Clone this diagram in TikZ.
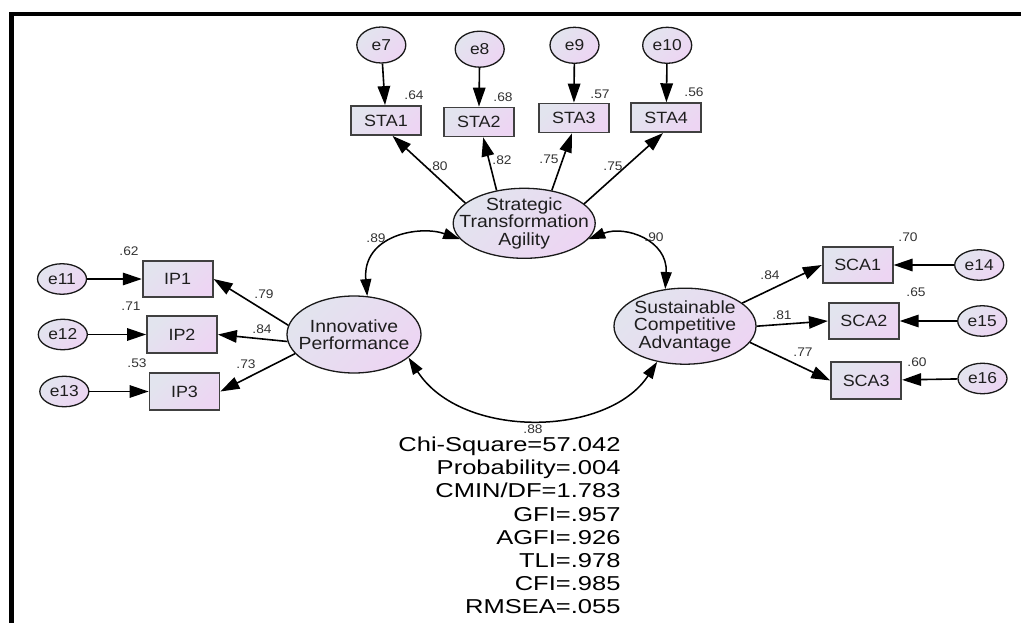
\documentclass[tikz,border=0pt]{standalone}
\usepackage{fontspec}
\setmainfont{Liberation Sans}
\newfontfamily\labelfont{Liberation Sans}[FakeStretch=1.1]
\newfontfamily\statsfont{Liberation Sans}[FakeStretch=1.27]
\usetikzlibrary{arrows.meta,shapes.geometric}
\definecolor{fillA}{RGB}{226,228,238}
\definecolor{fillB}{RGB}{237,213,243}
\definecolor{inkgray}{RGB}{30,30,30}

\begin{document}
\begin{tikzpicture}[x=1pt,y=-1pt,
  shadefill/.style={top color=fillA, bottom color=fillB, shading angle=45},
  latent/.style={ellipse, draw=black!90, line width=1.3pt, shadefill, inner sep=0pt},
  lattext/.style={align=center, inner sep=0pt, text=inkgray, font=\labelfont\fontsize{17.6}{17.5}\selectfont},
  observed/.style={rectangle, draw=black!75, line width=1.8pt, shadefill, inner sep=0pt,
    minimum width=70pt, text=inkgray, font=\labelfont\fontsize{16.3}{18}\selectfont},
  errvar/.style={ellipse, draw=black!90, line width=1.3pt, shadefill, inner sep=0pt,
    minimum width=49pt, text=inkgray, font=\labelfont\fontsize{15.8}{18}\selectfont},
  coef/.style={inner sep=0pt, text=black!80, font=\labelfont\fontsize{12.5}{14}\selectfont},
  loadarrow/.style={line width=1.6pt, -{Triangle[length=19pt,width=12.5pt]}},
  covar/.style={line width=1.5pt, {Triangle[length=17pt,width=11pt]}-{Triangle[length=17pt,width=11pt]}},
  stats/.style={align=right, inner sep=0pt, text=black, font=\statsfont\fontsize{20.1}{23.1}\selectfont}
]
\useasboundingbox (0,0) rectangle (1021,623);
\fill[white] (0,0) rectangle (1021,623);

% frame lines along the top and left edge
\draw[line width=4.6pt] (11.5,640) -- (11.5,14) -- (1040,14);

% latent factors
\node[latent, minimum width=142pt, minimum height=70pt,
  label={[lattext]center:Strategic\\Transformation\\Agility}] (sta) at (524.2,223.3) {};
\node[latent, minimum width=134pt, minimum height=77pt,
  label={[lattext]center:Innovative\\Performance}] (ip) at (354,334.5) {};
\node[latent, minimum width=142pt, minimum height=76pt,
  label={[lattext]center:Sustainable\\Competitive\\Advantage}] (sca) at (685,326.2) {};

% indicators
\node[observed, minimum height=29pt] (sta1) at (386,120.5) {STA1};
\node[observed, minimum height=29pt] (sta2) at (478.8,122) {STA2};
\node[observed, minimum height=29pt] (sta3) at (573.8,118) {STA3};
\node[observed, minimum height=29pt] (sta4) at (666.2,117.7) {STA4};
\node[observed, minimum height=36.5pt] (ip1) at (177.7,279) {IP1};
\node[observed, minimum height=36.5pt] (ip2) at (182,334.5) {IP2};
\node[observed, minimum height=36.5pt] (ip3) at (184.5,391.5) {IP3};
\node[observed, minimum height=36.5pt] (sca1) at (857.7,265) {SCA1};
\node[observed, minimum height=36.5pt] (sca2) at (863.8,321) {SCA2};
\node[observed, minimum height=36.5pt] (sca3) at (866.2,380.5) {SCA3};

% error terms
\node[errvar, minimum height=36pt] (e7) at (381.3,45) {e7};
\node[errvar, minimum height=36pt] (e8) at (479.7,49.2) {e8};
\node[errvar, minimum height=36pt] (e9) at (574.5,45.3) {e9};
\node[errvar, minimum height=36pt] (e10) at (667.2,45.3) {e10};
\node[errvar, minimum height=30.5pt] (e11) at (62,279) {e11};
\node[errvar, minimum height=30.5pt] (e12) at (62.8,334.5) {e12};
\node[errvar, minimum height=30.5pt] (e13) at (64.3,391.5) {e13};
\node[errvar, minimum height=30.5pt] (e14) at (979.2,265) {e14};
\node[errvar, minimum height=30.5pt] (e15) at (982.2,321) {e15};
\node[errvar, minimum height=30.5pt] (e16) at (982.5,378.5) {e16};

% error paths
\draw[loadarrow] (e7) -- (sta1);
\draw[loadarrow] (e8) -- (sta2);
\draw[loadarrow] (e9) -- (sta3);
\draw[loadarrow] (e10) -- (sta4);
\draw[loadarrow] (e11) -- (ip1);
\draw[loadarrow] (e12) -- (ip2);
\draw[loadarrow] (e13) -- (ip3);
\draw[loadarrow] (e14) -- (sca1);
\draw[loadarrow] (e15) -- (sca2);
\draw[loadarrow] (e16) -- (sca3);

% factor loadings
\draw[loadarrow] (sta.161.6) -- (sta1.-67.5);
\draw[loadarrow] (sta.130.5) -- (sta2.-74);
\draw[loadarrow] (sta.50.8) -- (sta3.-97);
\draw[loadarrow] (sta.18.5) -- (sta4.-102);
\draw[loadarrow] (ip.172) -- (ip1.east);
\draw[loadarrow] (ip.186.3) -- (ip2.east);
\draw[loadarrow] (ip.198.6) -- (ip3.east);
\draw[loadarrow] (sca.22.6) -- (sca1.west);
\draw[loadarrow] (sca.0) -- (sca2.west);
\draw[loadarrow] (sca.-14) -- (sca3.west);

% factor covariances
\draw[covar] (sta.194) .. controls (420,225) and (362,235) .. (ip.71);
\draw[covar] (sta.-14) .. controls (625,225) and (668,240) .. (sca.118.6);
\draw[covar] (ip.-23) .. controls (462,440) and (608,437) .. (sca.-128);

% squared multiple correlations
\node[coef] (r7) at (414,95) {.64};
\node[coef] (r8) at (503,97.5) {.68};
\node[coef] (r9) at (600,94) {.57};
\node[coef] (r10) at (694,92.5) {.56};
\node[coef] (r11) at (129,251) {.62};
\node[coef] (r12) at (131,306) {.71};
\node[coef] (r13) at (137,363) {.53};
\node[coef] (r14) at (908,237) {.70};
\node[coef] (r15) at (916,292) {.65};
\node[coef] (r16) at (917,362) {.60};

% standardized loadings
\node[coef] (l1) at (438,166) {.80};
\node[coef] (l2) at (502,160) {.82};
\node[coef] (l3) at (549,159) {.75};
\node[coef] (l4) at (613,166) {.75};
\node[coef] (l5) at (264,294) {.79};
\node[coef] (l6) at (262,329) {.84};
\node[coef] (l7) at (246,364) {.73};
\node[coef] (l8) at (770,275) {.84};
\node[coef] (l9) at (782,315) {.81};
\node[coef] (l10) at (803,352) {.77};

% correlations
\node[coef] (k1) at (376,238) {.89};
\node[coef] (k2) at (654,237) {.90};
\node[coef] (k3) at (533,429) {.88};

% fit indices
\node[stats, anchor=north east] (fitstats) at (620.7,437)
  {Chi-Square=57.042\\Probability=.004\\CMIN/DF=1.783\\GFI=.957\\AGFI=.926\\TLI=.978\\CFI=.985\\RMSEA=.055};
\end{tikzpicture}
\end{document}
